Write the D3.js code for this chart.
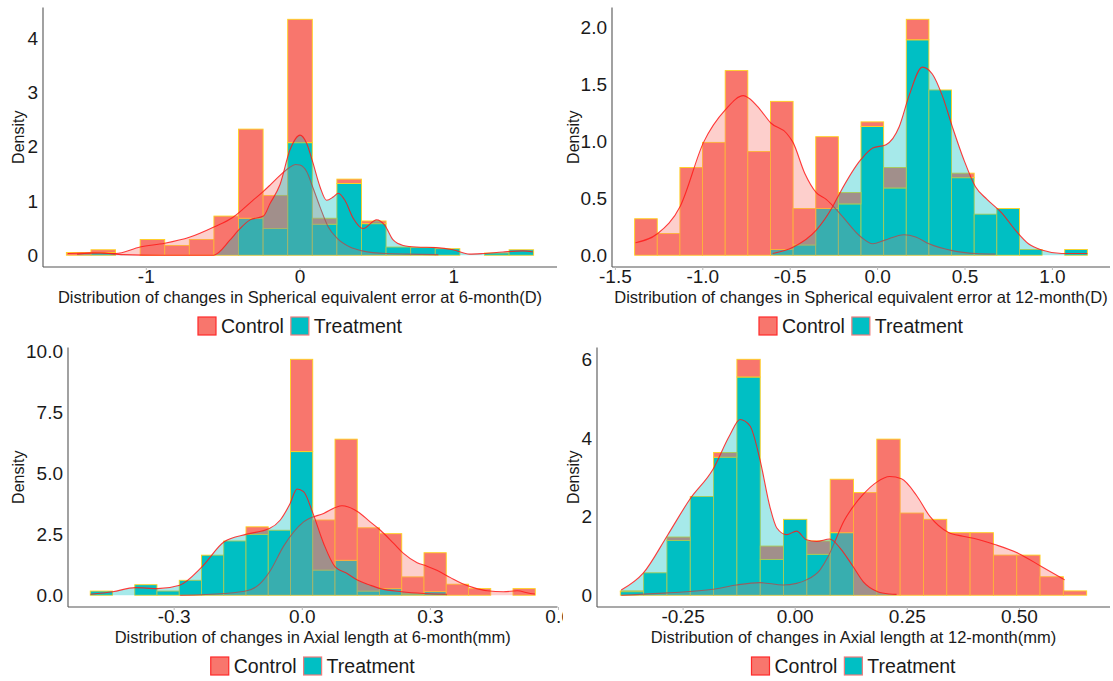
<!DOCTYPE html>
<html>
<head>
<meta charset="utf-8">
<script src="https://cdn.jsdelivr.net/npm/d3@7"></script>
<style>
    body { margin: 0; background: #fff; }
    svg { display: block; }
    text { font-family: "Liberation Sans", Arial, sans-serif; fill: #1a1a1a; }
</style>
</head>
<body>
<div id="elements"></div>
<script>
// ---- data (density units) ----
var groups = ["Control", "Treatment"];

// SE 6-month
var p1BinStart = -1.52, p1BinWidth = 0.16;
var p1Treat   = [0, 0.05, 0, 0, 0, 0, 0, 0.68, 0.49, 2.07, 0.57, 1.32, 0.58, 0.15, 0.14, 0.12, 0, 0.04, 0.1];
var p1Control = [0.05, 0.05, 0, 0.29, 0.18, 0.29, 0.72, 1.64, 0.61, 2.27, 0.11, 0.08, 0.05, 0, 0, 0, 0, 0, 0];
var p1CtrlDens = [[-1.51,0.03],[-1.42,0.04],[-1.35,0.045],[-1.2,0.03],[-1.04,0.15],[-0.88,0.22],[-0.72,0.33],
    [-0.56,0.52],[-0.44,0.69],[-0.31,1.0],[-0.24,1.17],[-0.195,1.29],[-0.13,1.47],[-0.075,1.6],[-0.03,1.67],
    [0.0,1.66],[0.043,1.54],[0.082,1.26],[0.13,0.89],[0.184,0.52],[0.242,0.31],[0.325,0.15],[0.405,0.08],
    [0.56,0.03],[0.72,0.02],[0.9,0.01]];
var p1TreatDens = [[-1.45,0.02],[-1.3,0.04],[-1.15,0.01],[-0.9,0.0],[-0.7,0.0],[-0.563,0.0],[-0.455,0.28],
    [-0.4,0.46],[-0.325,0.65],[-0.238,0.72],[-0.195,0.95],[-0.13,1.3],[-0.065,1.94],[0.0,2.21],[0.043,2.06],
    [0.082,1.72],[0.13,1.26],[0.173,1.01],[0.216,1.07],[0.249,1.14],[0.292,1.01],[0.346,0.68],[0.411,0.49],
    [0.498,0.65],[0.552,0.55],[0.606,0.28],[0.671,0.18],[0.758,0.15],[0.888,0.14],[0.995,0.1],[1.104,0.02],
    [1.19,0.03],[1.32,0.06],[1.45,0.08],[1.515,0.06]];
var p1XTicks = [-1, 0, 1];
var p1YTicks = [0, 1, 2, 3, 4];

// SE 12-month
var p2BinStart = -1.39, p2BinWidth = 0.1295;
var p2Treat   = [0, 0, 0, 0, 0, 0, 0.05, 0.09, 0.41, 0.45, 1.13, 0.59, 1.89, 1.45, 0.68, 0.36, 0.41, 0.05, 0, 0.05];
var p2Control = [0.32, 0.19, 0.77, 0.99, 1.62, 0.91, 1.30, 0.32, 0.63, 0.10, 0.04, 0.18, 0.18, 0, 0.04, 0, 0, 0, 0, 0];
var p2CtrlDens = [[-1.385,0.11],[-1.258,0.19],[-1.129,0.43],[-0.996,0.99],[-0.869,1.28],[-0.768,1.40],
    [-0.738,1.38],[-0.673,1.28],[-0.611,1.16],[-0.521,1.07],[-0.484,0.99],[-0.417,0.72],[-0.351,0.55],
    [-0.294,0.49],[-0.218,0.37],[-0.095,0.16],[-0.028,0.10],[0.038,0.13],[0.152,0.18],[0.218,0.16],
    [0.294,0.10],[0.427,0.04],[0.56,0.015],[0.674,0.01]];
var p2TreatDens = [[-0.6,0.015],[-0.484,0.07],[-0.351,0.22],[-0.256,0.43],[-0.218,0.54],[-0.095,0.84],
    [-0.028,0.94],[0.048,0.97],[0.124,1.13],[0.18,1.40],[0.256,1.65],[0.313,1.59],[0.37,1.40],[0.427,1.13],
    [0.493,0.84],[0.56,0.60],[0.626,0.49],[0.711,0.37],[0.788,0.22],[0.863,0.10],[0.939,0.045],
    [1.053,0.015],[1.2,0.015]];
var p2XTicks = [-1.5, -1.0, -0.5, 0.0, 0.5, 1.0];
var p2YTicks = [0, 0.5, 1.0, 1.5, 2.0];

// AL 6-month
var p3BinStart = -0.4965, p3BinWidth = 0.0521;
var p3Treat   = [0.17, 0, 0.43, 0.17, 0.61, 1.64, 2.22, 2.49, 2.66, 5.88, 1.03, 1.43, 0.17, 0.27, 0.05, 0.15, 0, 0, 0, 0];
var p3Control = [0, 0, 0, 0, 0, 0, 0, 0.31, 0, 3.78, 2.05, 4.96, 2.59, 2.25, 0.70, 1.59, 0.45, 0.27, 0, 0.27];
var p3CtrlDens = [[-0.286,0.0],[-0.183,0.07],[-0.13,0.18],[-0.1,0.45],[-0.075,1.0],[-0.044,2.0],[0.003,3.0],
    [0.05,3.35],[0.093,3.66],[0.13,3.42],[0.159,3.0],[0.183,2.66],[0.214,2.12],[0.237,1.71],[0.269,1.33],
    [0.292,1.19],[0.315,1.02],[0.347,0.72],[0.374,0.48],[0.401,0.31],[0.433,0.18],[0.471,0.14],[0.503,0.18],
    [0.534,0.07],[0.545,0.05]];
var p3TreatDens = [[-0.496,0.04],[-0.444,0.14],[-0.391,0.31],[-0.339,0.27],[-0.287,0.41],[-0.235,1.16],
    [-0.183,2.19],[-0.13,2.5],[-0.077,2.73],[-0.052,3.07],[-0.03,3.7],[-0.012,4.35],[0.003,4.24],
    [0.025,3.35],[0.05,2.12],[0.077,1.16],[0.105,0.89],[0.13,0.61],[0.159,0.41],[0.183,0.27],[0.233,0.14],
    [0.284,0.07],[0.339,0.04]];
var p3XTicks = [-0.3, 0.0, 0.3, 0.6];
var p3YTicks = [0, 2.5, 5.0, 7.5, 10.0];

// AL 12-month
var p4BinStart = -0.39, p4BinWidth = 0.052;
var p4Treat   = [0.09, 0.57, 1.39, 2.51, 3.51, 5.55, 0.91, 1.93, 1.04, 1.59, 0, 0, 0, 0, 0, 0, 0, 0, 0, 0];
var p4Control = [0.02, 0, 0.09, 0, 0.12, 0.45, 0.34, 0, 0.34, 1.36, 2.61, 3.97, 2.09, 1.93, 1.59, 1.59, 1.02, 1.02, 0.47, 0.11];
var p4CtrlDens = [[-0.388,0.0],[-0.285,0.06],[-0.183,0.15],[-0.131,0.26],[-0.079,0.32],[-0.027,0.26],
    [0.003,0.3],[0.025,0.39],[0.055,0.64],[0.072,0.95],[0.088,1.35],[0.107,1.85],[0.129,2.25],[0.152,2.57],
    [0.181,2.87],[0.211,3.02],[0.237,2.96],[0.271,2.53],[0.3,2.01],[0.341,1.6],[0.374,1.5],[0.404,1.43],
    [0.445,1.29],[0.497,1.07],[0.549,0.73],[0.601,0.39]];
var p4TreatDens = [[-0.388,0.13],[-0.339,0.56],[-0.285,1.52],[-0.235,2.44],[-0.183,3.21],[-0.146,4.07],
    [-0.123,4.47],[-0.101,4.31],[-0.079,3.47],[-0.056,2.23],[-0.041,1.71],[-0.019,1.54],[0.003,1.63],
    [0.025,1.41],[0.048,1.37],[0.077,1.43],[0.1,1.2],[0.129,0.73],[0.152,0.34],[0.184,0.09],[0.211,0.03],
    [0.226,0.02]];
var p4XTicks = [-0.25, 0.0, 0.25, 0.50];
var p4YTicks = [0, 2, 4, 6];

var xTitles = [
    "Distribution of changes in Spherical equivalent error at 6-month(D)",
    "Distribution of changes in Spherical equivalent error at 12-month(D)",
    "Distribution of changes in Axial length at 6-month(mm)",
    "Distribution of changes in Axial length at 12-month(mm)"
];

// plain hyphen for negatives, like the original
var loc = d3.formatLocale({decimal: ".", thousands: ",", grouping: [3], currency: ["", ""], minus: "-"});

// ---- layout of the four panels ----
var panels = [
    {ox: 0,   oy: 0,   w: 558, left: 43,  right: 557,  top: 7.5, bottom: 267,
     binStart: p1BinStart, binWidth: p1BinWidth, treat: p1Treat, control: p1Control,
     ctrlDens: p1CtrlDens, treatDens: p1TreatDens, xTicks: p1XTicks, yTicks: p1YTicks,
     xFmt: loc.format("d"), yFmt: loc.format("d"), title: xTitles[0]},
    {ox: 555, oy: 0,   w: 558, left: 612, right: 1110, top: 7.5, bottom: 267,
     binStart: p2BinStart, binWidth: p2BinWidth, treat: p2Treat, control: p2Control,
     ctrlDens: p2CtrlDens, treatDens: p2TreatDens, xTicks: p2XTicks, yTicks: p2YTicks,
     xFmt: loc.format(".1f"), yFmt: loc.format(".1f"), title: xTitles[1]},
    {ox: 0,   oy: 340, w: 563, left: 68,  right: 557.5, top: 347.5, bottom: 607,
     binStart: p3BinStart, binWidth: p3BinWidth, treat: p3Treat, control: p3Control,
     ctrlDens: p3CtrlDens, treatDens: p3TreatDens, xTicks: p3XTicks, yTicks: p3YTicks,
     xFmt: loc.format(".1f"), yFmt: loc.format(".1f"), title: xTitles[2]},
    {ox: 555, oy: 340, w: 558, left: 597, right: 1110, top: 347.5, bottom: 607,
     binStart: p4BinStart, binWidth: p4BinWidth, treat: p4Treat, control: p4Control,
     ctrlDens: p4CtrlDens, treatDens: p4TreatDens, xTicks: p4XTicks, yTicks: p4YTicks,
     xFmt: loc.format(".2f"), yFmt: loc.format("d"), title: xTitles[3]}
];

var fillCol = {Control: "#F8766D", Treatment: "#00BFC4"};
var barStroke = "#FFD21F";
var lineCol = "#FF1A1A";

var svg = d3.select("#elements").append("svg")
    .attr("width", 1113)
    .attr("height", 681);

panels.forEach(function(p, k) {
    var nb = p.treat.length,
        lo = p.binStart,
        hi = p.binStart + nb * p.binWidth,
        ymax = d3.max(p.treat.map(function(t, i) { return t + p.control[i]; }));

    // ggplot-like 5% expansion
    var x = d3.scaleLinear()
        .domain([lo - 0.05 * (hi - lo), hi + 0.05 * (hi - lo)])
        .range([p.left, p.right]);
    var y = d3.scaleLinear()
        .domain([-0.05 * ymax, ymax * 1.05])
        .range([p.bottom, p.top]);

    svg.append("clipPath").attr("id", "clip" + k)
        .append("rect")
        .attr("x", p.ox).attr("y", p.oy)
        .attr("width", p.w).attr("height", 340);

    var g = svg.append("g").attr("clip-path", "url(#clip" + k + ")");

    // stacked histogram: treatment at the bottom, control on top
    var bins = d3.range(nb).map(function(i) {
        return {x0: lo + i * p.binWidth, x1: lo + (i + 1) * p.binWidth, t: p.treat[i], c: p.control[i]};
    });
    var bars = g.append("g");
    bars.selectAll("rect.t")
        .data(bins.filter(function(b) { return b.t > 0; }))
        .enter().append("rect")
        .attr("x", function(b) { return x(b.x0); })
        .attr("width", function(b) { return x(b.x1) - x(b.x0); })
        .attr("y", function(b) { return y(b.t); })
        .attr("height", function(b) { return y(0) - y(b.t); })
        .attr("fill", fillCol.Treatment)
        .attr("stroke", barStroke)
        .attr("stroke-width", 0.9);
    bars.selectAll("rect.c")
        .data(bins.filter(function(b) { return b.c > 0; }))
        .enter().append("rect")
        .attr("x", function(b) { return x(b.x0); })
        .attr("width", function(b) { return x(b.x1) - x(b.x0); })
        .attr("y", function(b) { return y(b.t + b.c); })
        .attr("height", function(b) { return y(b.t) - y(b.t + b.c); })
        .attr("fill", fillCol.Control)
        .attr("stroke", barStroke)
        .attr("stroke-width", 0.9);

    // density curves
    var area = d3.area()
        .x(function(d) { return x(d[0]); })
        .y0(y(0))
        .y1(function(d) { return y(d[1]); })
        .curve(d3.curveMonotoneX);
    var line = d3.line()
        .x(function(d) { return x(d[0]); })
        .y(function(d) { return y(d[1]); })
        .curve(d3.curveMonotoneX);

    [["Control", p.ctrlDens], ["Treatment", p.treatDens]].forEach(function(s) {
        g.append("path")
            .attr("d", area(s[1]))
            .attr("fill", fillCol[s[0]])
            .attr("fill-opacity", 0.35);
        g.append("path")
            .attr("d", line(s[1]))
            .attr("fill", "none")
            .attr("stroke", lineCol)
            .attr("stroke-opacity", 0.85)
            .attr("stroke-width", 1.1);
    });

    // axes (classic theme)
    g.append("line")
        .attr("x1", p.left).attr("x2", p.right)
        .attr("y1", p.bottom).attr("y2", p.bottom)
        .attr("stroke", "#555").attr("stroke-width", 1.1);
    g.append("line")
        .attr("x1", p.left).attr("x2", p.left)
        .attr("y1", p.top).attr("y2", p.bottom)
        .attr("stroke", "#555").attr("stroke-width", 1.1);

    g.selectAll("line.xt")
        .data(p.xTicks).enter().append("line")
        .attr("x1", function(d) { return x(d); }).attr("x2", function(d) { return x(d); })
        .attr("y1", p.bottom).attr("y2", p.bottom + 3)
        .attr("stroke", "#bbb");
    g.selectAll("text.xt")
        .data(p.xTicks).enter().append("text")
        .attr("x", function(d) { return x(d); })
        .attr("y", p.bottom + 15.5)
        .attr("text-anchor", "middle")
        .style("font-size", "19px")
        .text(function(d) { return p.xFmt(d); });

    g.selectAll("text.yt")
        .data(p.yTicks).enter().append("text")
        .attr("x", p.left - 5)
        .attr("y", function(d) { return y(d); })
        .attr("dy", "0.36em")
        .attr("text-anchor", "end")
        .style("font-size", "19px")
        .text(function(d) { return p.yFmt(d); });

    g.append("text")
        .attr("x", (p.left + p.right) / 2)
        .attr("y", p.bottom + 35.5)
        .attr("text-anchor", "middle")
        .style("font-size", "16.5px")
        .text(p.title);

    g.append("text")
        .attr("transform", "translate(" + (p.ox + 24) + "," + ((p.top + p.bottom) / 2) + ") rotate(-90)")
        .attr("text-anchor", "middle")
        .style("font-size", "16px")
        .text("Density");

    // legend below the x title
    var leg = g.append("g");
    var cx = 0;
    groups.forEach(function(name, j) {
        leg.append("rect")
            .attr("x", cx).attr("y", 0)
            .attr("width", 18).attr("height", 18)
            .attr("fill", fillCol[name])
            .attr("stroke", j === 0 ? "#FF2A2A" : "#EE7C7C")
            .attr("stroke-width", 1.2);
        var t = leg.append("text")
            .attr("x", cx + 23).attr("y", 16)
            .style("font-size", "19.5px")
            .text(name);
        cx += 23 + t.node().getComputedTextLength() + 7;
    });
    var legW = cx - 7;
    leg.attr("transform", "translate(" + ((p.left + p.right) / 2 - legW / 2) + "," + (p.bottom + 50) + ")");
});
</script>
</body>
</html>
